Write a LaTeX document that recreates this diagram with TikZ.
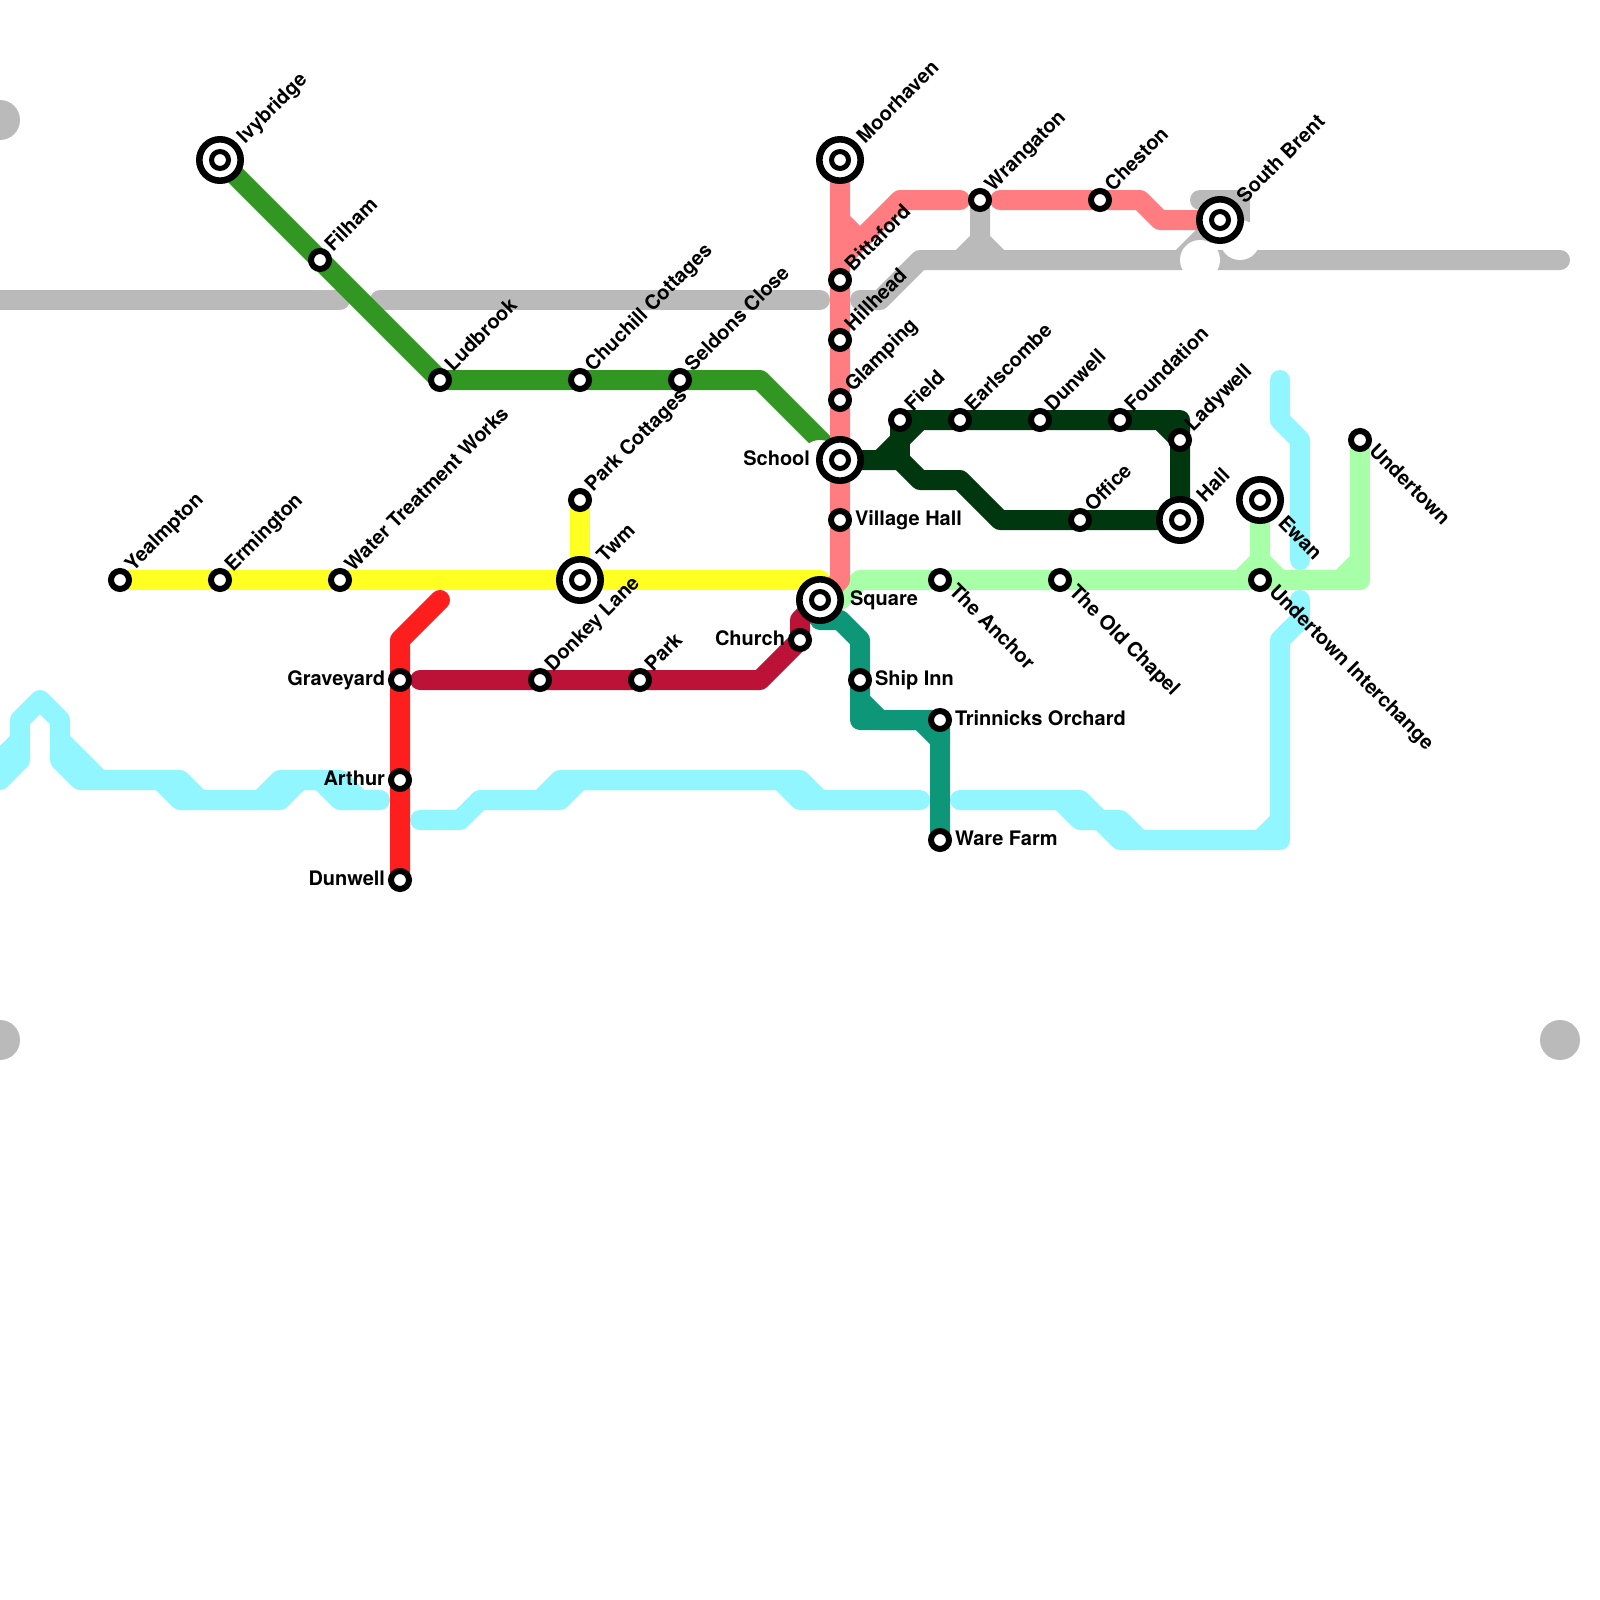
\documentclass[tikz,border=0pt]{standalone}
\usepackage{fontspec}
\setmainfont{TeX Gyre Heros}
\definecolor{cgray}{HTML}{BABABA}
\definecolor{cgreen}{HTML}{319622}
\definecolor{cdark}{HTML}{00370E}
\definecolor{cpink}{HTML}{FF7C80}
\definecolor{cyell}{HTML}{FFFF22}
\definecolor{cred}{HTML}{FF1E1E}
\definecolor{ccrim}{HTML}{BC1238}
\definecolor{cteal}{HTML}{0D9678}
\definecolor{ccyan}{HTML}{91F6FF}
\definecolor{clime}{HTML}{A7FFA7}
\tikzset{
 metro/.style={line width=20pt,line cap=round,line join=round},
 stn/.style={circle,draw=black,fill=white,line width=6pt,minimum size=18pt,inner sep=0pt,outer sep=0pt},
 hub/.style={circle,draw=black,fill=white,line width=6.6pt,minimum size=41.4pt,inner sep=0pt,outer sep=0pt},
 hubc/.style={circle,draw=black,fill=white,line width=5pt,minimum size=17pt,inner sep=0pt,outer sep=0pt},
 lab/.style={font=\fontsize{20}{24}\selectfont\bfseries,inner sep=0pt,outer sep=0pt,text=black},
 ur/.style={lab,rotate=45,anchor=base west},
 dr/.style={lab,rotate=-45,anchor=base west},
 rt/.style={lab,anchor=base west},
 lt/.style={lab,anchor=base east},
 gcirc/.style={circle,fill=cgray,minimum size=40pt,inner sep=0pt,outer sep=0pt},
 wcirc/.style={circle,fill=white,minimum size=40pt,inner sep=0pt,outer sep=0pt},
}
\newcommand{\smallst}[3]{\node[stn] (#1) at (#2,#3) {};}
\newcommand{\bigst}[3]{\node[hub] (#1) at (#2,#3) {};\node[hubc] (#1c) at (#2,#3) {};}
\begin{document}
\begin{tikzpicture}[x=1pt,y=-1pt]
\useasboundingbox (0,0) rectangle (1600,1600);
\fill[white] (0,0) rectangle (1600,1600);
\clip (0,0) rectangle (1600,1600);
% corner discs
\node[gcirc] (g1) at (0,120) {};
\node[gcirc] (g2) at (0,1040) {};
\node[gcirc] (g3) at (1560,1040) {};
% gray
\draw[metro,cgray] (-20,300) -- (340,300);
\draw[metro,cgray] (380,300) -- (820,300);
\draw[metro,cgray] (860,300) -- (880,300) -- (920,260) -- (1560,260);
\draw[metro,cgray] (980,200) -- (980,240) -- (960,260);
\draw[metro,cgray] (980,240) -- (1000,260);
\draw[metro,cgray] (1180,260) -- (1220,220);
\draw[metro,cgray] (1200,200) -- (1240,200) -- (1240,240);
\node[wcirc] (w1) at (1200,260) {};
\node[wcirc] (w2) at (1240,240) {};
% cyan
\draw[metro,ccyan] (0,780) -- (20,760) -- (20,720) -- (40,700) -- (60,720) -- (60,760) -- (80,780) -- (180,780) -- (200,800) -- (280,800) -- (300,780) -- (320,780) -- (340,800) -- (380,800);
\draw[metro,ccyan] (0,760) -- (20,740);
\draw[metro,ccyan] (60,740) -- (100,780);
\draw[metro,ccyan] (160,780) -- (180,800) -- (200,800);
\draw[metro,ccyan] (260,800) -- (280,780) -- (340,780) -- (360,800);
\draw[metro,ccyan] (420,820) -- (460,820) -- (480,800) -- (560,800) -- (580,780) -- (780,780) -- (800,800) -- (920,800);
\draw[metro,ccyan] (540,800) -- (560,780) -- (800,780) -- (820,800);
\draw[metro,ccyan] (960,800) -- (1080,800) -- (1100,820) -- (1120,820) -- (1140,840);
\draw[metro,ccyan] (1060,800) -- (1080,820) -- (1100,820) -- (1120,840) -- (1280,840) -- (1280,640) -- (1300,620) -- (1300,600);
\draw[metro,ccyan] (1260,840) -- (1280,820);
\draw[metro,ccyan] (1280,380) -- (1280,420) -- (1300,440) -- (1300,560);
% lime
\draw[metro,clime] (1360,440) -- (1360,580) -- (860,580) -- (840,600) -- (820,600);
\draw[metro,clime] (1340,580) -- (1360,560);
\draw[metro,clime] (1260,500) -- (1260,560) -- (1240,580);
\draw[metro,clime] (1260,560) -- (1280,580);
% green
\draw[metro,cgreen] (220,160) -- (440,380) -- (760,380) -- (820,440) -- (840,460);
\node[wcirc] (w3) at (820,460) {};
% yellow
\draw[metro,cyell] (120,580) -- (820,580);
\draw[metro,cyell] (580,500) -- (580,580);
% red
\draw[metro,cred] (440,600) -- (400,640) -- (400,880);
% crimson
\draw[metro,ccrim] (420,680) -- (760,680) -- (800,640) -- (800,620) -- (820,600);
% teal
\draw[metro,cteal] (820,600) -- (820,620) -- (840,620) -- (860,640) -- (860,720) -- (920,720) -- (940,740) -- (940,840);
\draw[metro,cteal] (860,700) -- (880,720) -- (940,720) -- (940,740);
% pink
\draw[metro,cpink] (840,160) -- (840,580) -- (820,600);
\draw[metro,cpink] (840,220) -- (860,240);
\draw[metro,cpink] (840,260) -- (900,200) -- (960,200);
\draw[metro,cpink] (1000,200) -- (1140,200) -- (1160,220) -- (1220,220);
% dark green
\draw[metro,cdark] (840,460) -- (880,460) -- (900,440) -- (900,420) -- (1180,420) -- (1180,520) -- (1000,520) -- (960,480) -- (920,480) -- (900,460) -- (880,460);
\draw[metro,cdark] (900,440) -- (920,420);
\draw[metro,cdark] (900,440) -- (900,460);
\draw[metro,cdark] (1160,420) -- (1180,440);
% stations
\bigst{ivy}{220}{160}
\smallst{fil}{320}{260}
\smallst{lud}{440}{380}
\smallst{chu}{580}{380}
\smallst{sel}{680}{380}
\smallst{yea}{120}{580}
\smallst{erm}{220}{580}
\smallst{wat}{340}{580}
\smallst{par}{580}{500}
\bigst{twm}{580}{580}
\smallst{don}{540}{680}
\smallst{prk}{640}{680}
\smallst{gra}{400}{680}
\smallst{art}{400}{780}
\smallst{dun}{400}{880}
\smallst{chr}{800}{640}
\bigst{squ}{820}{600}
\bigst{moo}{840}{160}
\smallst{bit}{840}{280}
\smallst{hil}{840}{340}
\smallst{gla}{840}{400}
\bigst{sch}{840}{460}
\smallst{vil}{840}{520}
\smallst{fie}{900}{420}
\smallst{ear}{960}{420}
\smallst{dnw}{1040}{420}
\smallst{fou}{1120}{420}
\smallst{lad}{1180}{440}
\bigst{hal}{1180}{520}
\smallst{off}{1080}{520}
\smallst{wra}{980}{200}
\smallst{che}{1100}{200}
\bigst{sou}{1220}{220}
\bigst{ewa}{1260}{500}
\smallst{uin}{1260}{580}
\smallst{und}{1360}{440}
\smallst{anc}{940}{580}
\smallst{old}{1060}{580}
\smallst{shi}{860}{680}
\smallst{tri}{940}{720}
\smallst{war}{940}{840}
% labels
\node[ur] (lIvy) at (245,144) {Ivybridge};
\node[ur] (lFil) at (333,252) {Filham};
\node[ur] (lLud) at (453,372) {Ludbrook};
\node[ur] (lChu) at (593,372) {Chuchill Cottages};
\node[ur] (lSel) at (693,372) {Seldons Close};
\node[ur] (lYea) at (133,572) {Yealmpton};
\node[ur] (lErm) at (233,572) {Ermington};
\node[ur] (lWat) at (353,572) {Water Treatment Works};
\node[ur] (lPar) at (593,492) {Park Cottages};
\node[ur] (lTwm) at (605,563) {Twm};
\node[ur] (lDon) at (553,672) {Donkey Lane};
\node[ur] (lPrk) at (653,672) {Park};
\node[ur] (lMoo) at (865,144) {Moorhaven};
\node[ur] (lBit) at (853,272) {Bittaford};
\node[ur] (lHil) at (853,332) {Hillhead};
\node[ur] (lGla) at (853,392) {Glamping};
\node[ur] (lFie) at (913,412) {Field};
\node[ur] (lEar) at (973,412) {Earlscombe};
\node[ur] (lDnw) at (1053,412) {Dunwell};
\node[ur] (lFou) at (1133,412) {Foundation};
\node[ur] (lLad) at (1193,432) {Ladywell};
\node[ur] (lHal) at (1205,503) {Hall};
\node[ur] (lOff) at (1093,512) {Office};
\node[ur] (lWra) at (993,192) {Wrangaton};
\node[ur] (lChe) at (1113,192) {Cheston};
\node[ur] (lSou) at (1245,204) {South Brent};
\node[dr] (lEwa) at (1277,524) {Ewan};
\node[dr] (lUin) at (1268,593) {Undertown Interchange};
\node[dr] (lUnd) at (1368,452) {Undertown};
\node[dr] (lAnc) at (948,592) {The Anchor};
\node[dr] (lOld) at (1068,593) {The Old Chapel};
\node[rt] (lSqu) at (850,605) {Square};
\node[rt] (lVil) at (855,525) {Village Hall};
\node[rt] (lShi) at (875,685) {Ship Inn};
\node[rt] (lTri) at (955,725) {Trinnicks Orchard};
\node[rt] (lWar) at (955,845) {Ware Farm};
\node[lt] (lSch) at (810,465) {School};
\node[lt] (lChr) at (785,645) {Church};
\node[lt] (lGra) at (385,685) {Graveyard};
\node[lt] (lArt) at (385,785) {Arthur};
\node[lt] (lDun) at (385,885) {Dunwell};
\end{tikzpicture}
\end{document}
